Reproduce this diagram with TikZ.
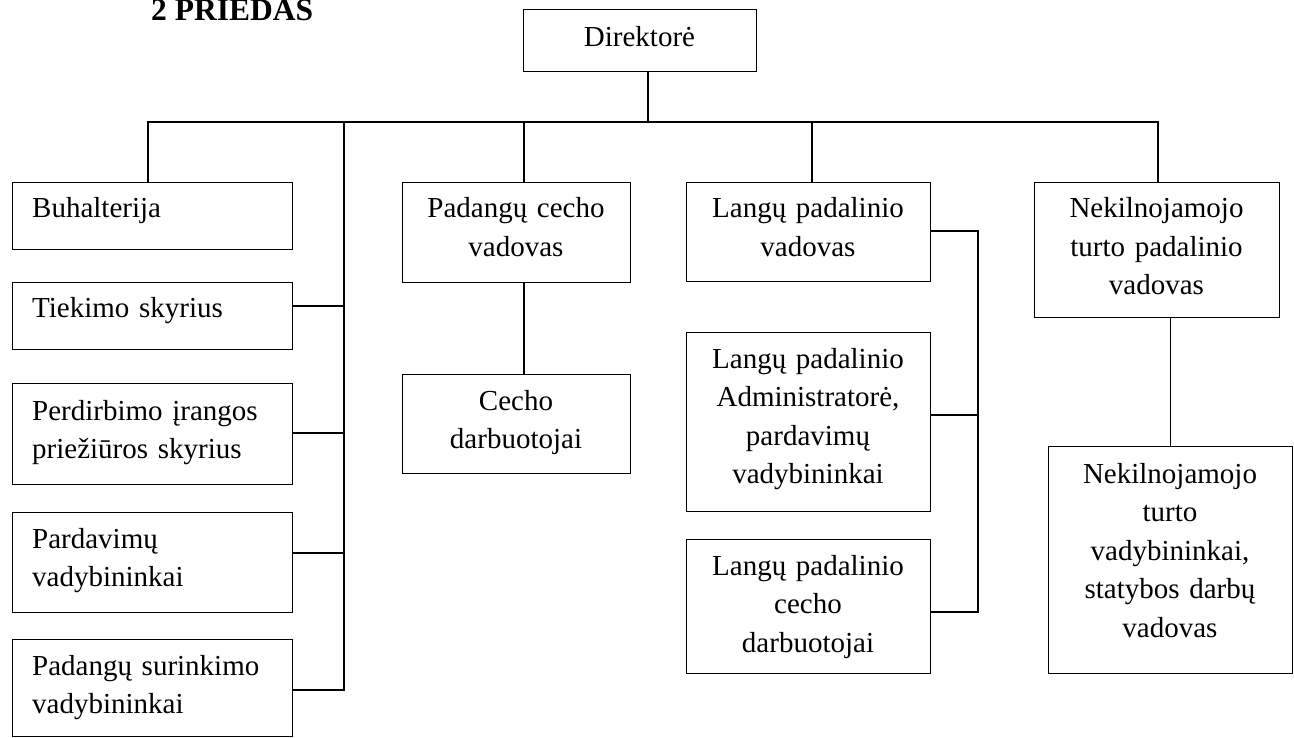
\documentclass[tikz,border=0pt]{standalone}
\usepackage{fontspec}
\setmainfont{Liberation Serif}
\begin{document}
\begin{tikzpicture}[x=1pt,y=-1pt,
  bx/.style={draw, line width=1.3pt, inner sep=0pt, anchor=north west},
  tc/.style={inner sep=0pt, anchor=base, text width=240pt, align=center,
             font=\fontsize{29}{38.5}\selectfont},
  tl/.style={inner sep=0pt, anchor=base west, text width=255pt, align=left,
             font=\fontsize{29}{38.5}\selectfont},
  ln/.style={line width=1.3pt}]
\useasboundingbox (0,0) rectangle (1294,738);

% heading
\node[inner sep=0pt, anchor=base west, font=\bfseries\fontsize{31.5}{36}\selectfont]
  (title) at (151,21) {2 PRIEDAS};

% boxes
\node[bx, minimum width=233pt, minimum height=62pt]  (dir)   at (523,9)    {};
\node[bx, minimum width=280pt, minimum height=67pt]  (buh)   at (12,182)   {};
\node[bx, minimum width=280pt, minimum height=67pt]  (tiek)  at (12,282)   {};
\node[bx, minimum width=280pt, minimum height=101pt] (perd)  at (12,383)   {};
\node[bx, minimum width=280pt, minimum height=100pt] (pard)  at (12,512)   {};
\node[bx, minimum width=280pt, minimum height=97pt]  (pads)  at (12,639)   {};
\node[bx, minimum width=228pt, minimum height=100pt] (padc)  at (402,182)  {};
\node[bx, minimum width=228pt, minimum height=99pt]  (cecho) at (402,374)  {};
\node[bx, minimum width=244pt, minimum height=99pt]  (langv) at (686,182)  {};
\node[bx, minimum width=244pt, minimum height=179pt] (adm)   at (686,332)  {};
\node[bx, minimum width=244pt, minimum height=134pt] (langc) at (686,539)  {};
\node[bx, minimum width=245pt, minimum height=135pt] (nek1)  at (1034,182) {};
\node[bx, minimum width=244pt, minimum height=227pt] (nek2)  at (1048,446) {};

% texts
\node[tc] (dirt)   at (639.5,47) {Direktorė};
\node[tl] (buht)   at (32,218)   {Buhalterija};
\node[tl] (tiekt)  at (32,318)   {Tiekimo skyrius};
\node[tl] (perdt)  at (32,420)   {Perdirbimo įrangos\\priežiūros skyrius};
\node[tl] (pardt)  at (32,548)   {Pardavimų\\vadybininkai};
\node[tl] (padst)  at (32,675)   {Padangų surinkimo\\vadybininkai};
\node[tc] (padct)  at (516,218)  {Padangų cecho\\vadovas};
\node[tc] (cechot) at (516,410)  {Cecho\\darbuotojai};
\node[tc] (langvt) at (808,218)  {Langų padalinio\\vadovas};
\node[tc] (admt)   at (808,368)  {Langų padalinio\\Administratorė,\\pardavimų\\vadybininkai};
\node[tc] (langct) at (808,575)  {Langų padalinio\\cecho\\darbuotojai};
\node[tc] (nek1t)  at (1156.5,218) {Nekilnojamojo\\turto padalinio\\vadovas};
\node[tc] (nek2t)  at (1170,483) {Nekilnojamojo\\turto\\vadybininkai,\\statybos darbų\\vadovas};

% junction points
\coordinate (bus)   at (648,122);
\coordinate (buhin) at (148,182);
\coordinate (spine) at (344,122);
\coordinate (padin) at (524,182);
\coordinate (lanin) at (812,182);
\coordinate (nekin) at (1158,182);
\coordinate (lsp)   at (978,231);

% director to the bus, bus to the top row
\draw[ln] (dir.south -| bus) -- (bus);
\draw[ln] (buhin) |- (bus) -| (nekin);
\draw[ln] (padin |- bus) -- (padin);
\draw[ln] (lanin |- bus) -- (lanin);

% left spine with its departments
\draw[ln] (spine) |- (pads.east |- 0,690);
\draw[ln] (tiek.east |- 0,306) -- (spine |- 0,306);
\draw[ln] (perd.east |- 0,433) -- (spine |- 0,433);
\draw[ln] (pard.east |- 0,553) -- (spine |- 0,553);

% tyre workshop
\draw[ln] (padin |- padc.south) -- (padin |- cecho.north);

% window unit
\draw[ln] (langv.east |- lsp) -- (lsp) |- (langc.east |- 0,612);
\draw[ln] (adm.east |- 0,415) -- (lsp |- 0,415);

% real estate unit
\draw[ln] (nek2.north |- nek1.south) -- (nek2.north);
\end{tikzpicture}
\end{document}
